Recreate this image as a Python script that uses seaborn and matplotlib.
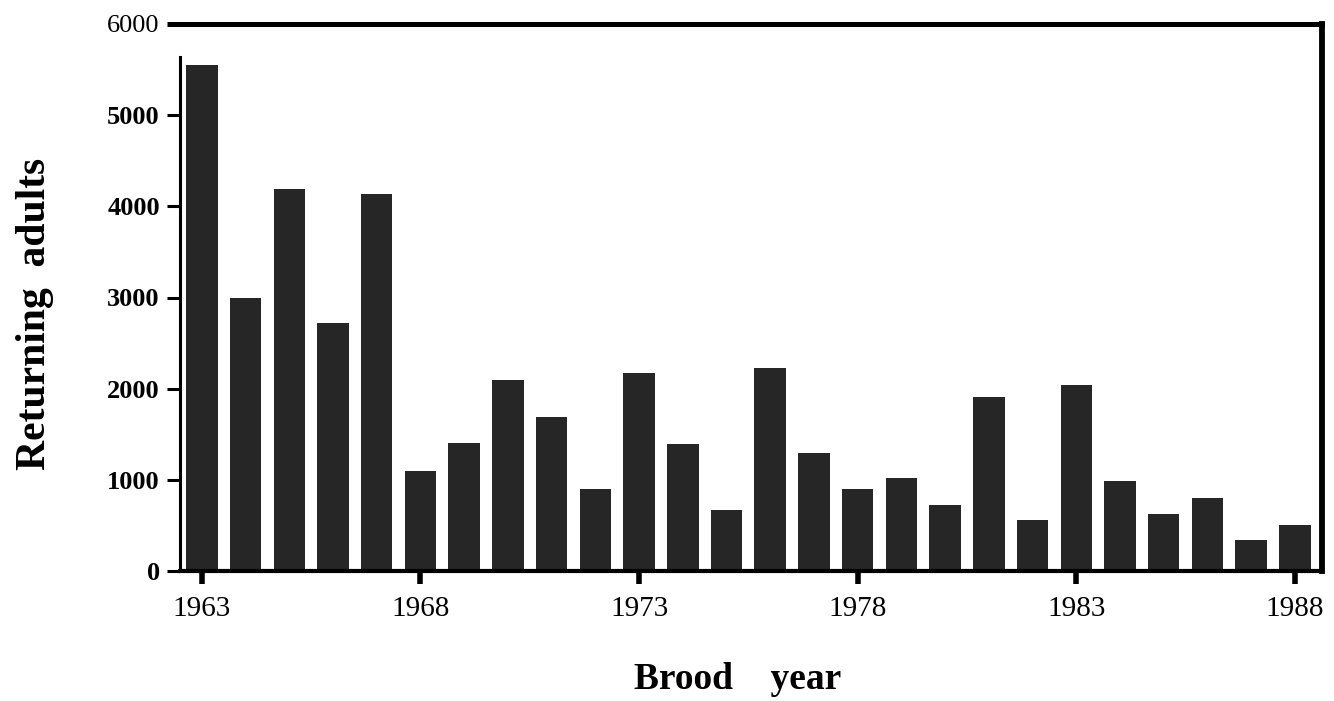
import matplotlib
matplotlib.use("Agg")
import matplotlib.pyplot as plt
import seaborn as sns
import pandas as pd

# Returning adults per brood year
years = list(range(1963, 1989))
returning_adults = [5550, 3000, 4190, 2720, 4140, 1100, 1400, 2100, 1690, 900,
                    2170, 1390, 670, 2230, 1290, 900, 1020, 720, 1910, 560,
                    2040, 990, 620, 800, 340, 510]
year_ticks = [1963, 1968, 1973, 1978, 1983, 1988]
count_ticks = [0, 1000, 2000, 3000, 4000, 5000, 6000]

sns.set_theme(style="white")
plt.rcParams["font.family"] = ["Liberation Serif", "DejaVu Serif"]

W, H = 1334, 701
fig = plt.figure(figsize=(W / 100, H / 100), dpi=100)
ax = fig.add_axes([180 / W, 1 - 571 / H, 1142 / W, 547 / H])

df = pd.DataFrame({"year": years, "adults": returning_adults})
sns.barplot(data=df, x="year", y="adults", native_scale=True, color="#262626",
            saturation=1, width=0.72, linewidth=0, ax=ax)

ax.set_xlim(1962.5, 1988.62)
ax.set_ylim(0, 6000)
ax.set_xticks(year_ticks)
ax.set_xticklabels([str(y) for y in year_ticks])
ax.set_yticks(count_ticks)
ax.set_yticklabels([str(v) for v in count_ticks])

# Frame: heavy top/right border, left axis stops short of the top line
for side in ["top", "right", "left", "bottom"]:
    ax.spines[side].set_visible(True)
    ax.spines[side].set_color("black")
ax.spines["top"].set_linewidth(3.6)
ax.spines["right"].set_linewidth(4.2)
ax.spines["left"].set_linewidth(2.2)
ax.spines["bottom"].set_linewidth(3.0)
ax.spines["left"].set_bounds(0, 5640)

ax.tick_params(axis="y", direction="out", length=9.5, width=2.2, pad=5,
               labelsize=19, left=True, colors="black")
ax.tick_params(axis="x", direction="out", length=9.5, width=4, pad=8.5,
               labelsize=21, bottom=True, colors="black")

for lbl in ax.get_yticklabels():
    lbl.set_fontweight("bold")
ax.get_yticklabels()[-1].set_fontweight("normal")
ax.yaxis.get_major_ticks()[-1].tick1line.set_markeredgewidth(3.6)

ax.set_xlabel("Brood    year", fontsize=27, fontweight="bold", color="black")
ax.xaxis.set_label_coords((738 - 180) / 1142, (571 - 662) / 547)
ax.set_ylabel("Returning  adults", fontsize=30, fontweight="bold", color="black")
ax.yaxis.set_label_coords((54 - 180) / 1142, (571 - 314) / 547)

fig.savefig("out.png", dpi=100, facecolor="white")
